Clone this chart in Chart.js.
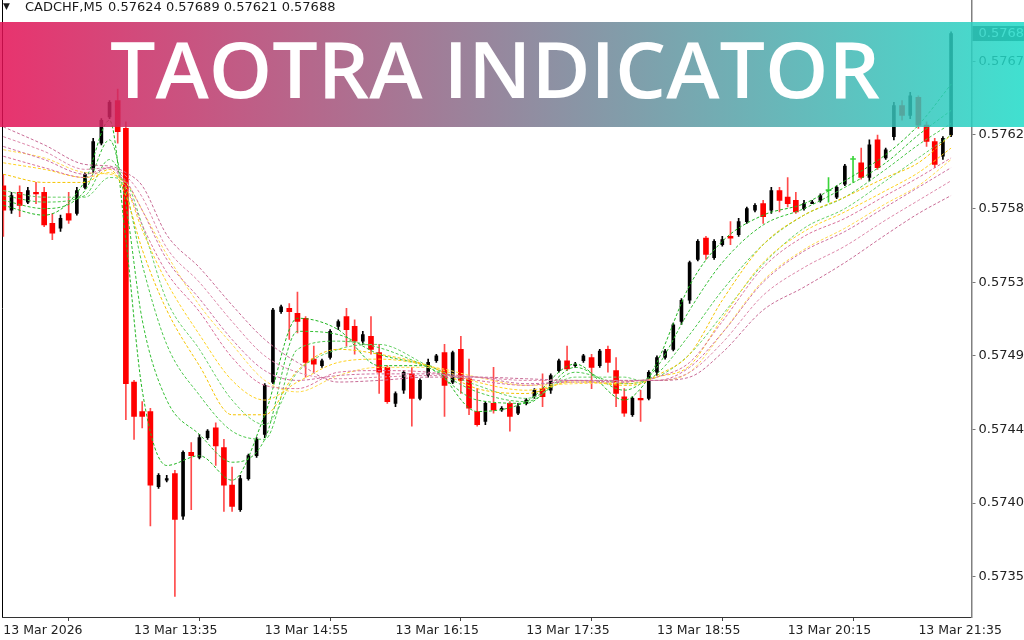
<!DOCTYPE html>
<html><head><meta charset="utf-8">
<script src="https://cdn.jsdelivr.net/npm/chart.js@4.4.1/dist/chart.umd.min.js"></script>
<style>html,body{margin:0;padding:0;background:#fff;}canvas{display:block;}</style>
</head><body>
<canvas id="c" width="1024" height="640"></canvas>
<script>
// ---------- texts ----------
const symbolTitle = 'CADCHF,M5';
const headerValues = '0.57624 0.57689 0.57621 0.57688';
const bannerText = 'TAOTRA INDICATOR';
const lastPriceLabel = '0.5768';

// ---------- axis ticks ----------
const xTickIndex = [0, 16, 32, 48, 64, 80, 96, 112];
const xTickLabels = ['13 Mar 2026', '13 Mar 13:35', '13 Mar 14:55', '13 Mar 16:15', '13 Mar 17:35', '13 Mar 18:55', '13 Mar 20:15', '13 Mar 21:35'];
const yTickValues = [0.57350, 0.57395, 0.57440, 0.57485, 0.57530, 0.57575, 0.57620, 0.57665];
const yTickLabels = ['0.5735', '0.5740', '0.5744', '0.5749', '0.5753', '0.5758', '0.5762', '0.5767'];

// ---------- candles (M5 bars, 12:15 .. 21:55) ----------
const opens = [0.57589,0.57574,0.57585,0.57579,0.57585,0.57585,0.57566,0.57563,0.57572,0.57572,
0.57588,0.57599,0.57615,0.57631,0.57641,0.57624,0.57469,0.57451,0.57451,0.57405,
0.57409,0.57413,0.57387,0.57426,0.57423,0.57435,0.57441,0.57429,0.57406,0.57391,
0.57410,0.57424,0.57437,0.57469,0.57512,0.57514,0.57511,0.57508,0.57483,0.57479,
0.57484,0.57503,0.57509,0.57503,0.57494,0.57497,0.57487,0.57478,0.57456,0.57464,
0.57474,0.57459,0.57473,0.57482,0.57487,0.57469,0.57489,0.57471,0.57451,0.57445,
0.57456,0.57452,0.57456,0.57450,0.57456,0.57460,0.57465,0.57464,0.57476,0.57482,
0.57479,0.57482,0.57484,0.57479,0.57489,0.57476,0.57460,0.57449,0.57459,0.57459,
0.57475,0.57484,0.57489,0.57506,0.57519,0.57544,0.57557,0.57545,0.57553,0.57558,
0.57559,0.57567,0.57574,0.57578,0.57574,0.57586,0.57582,0.57580,0.57575,0.57578,
0.57580,0.57586,0.57582,0.57590,0.57605,0.57603,0.57594,0.57617,0.57606,0.57619,
0.57638,0.57632,0.57643,0.57626,0.57616,0.57607,0.57620];
const highs = [0.57596,0.57585,0.57589,0.57588,0.57591,0.57588,0.57572,0.57571,0.57585,0.57588,
0.57597,0.57618,0.57630,0.57641,0.57648,0.57628,0.57470,0.57457,0.57453,0.57413,
0.57412,0.57415,0.57427,0.57432,0.57437,0.57440,0.57444,0.57434,0.57417,0.57412,
0.57425,0.57435,0.57468,0.57514,0.57516,0.57517,0.57524,0.57509,0.57491,0.57483,
0.57501,0.57507,0.57514,0.57507,0.57500,0.57509,0.57492,0.57479,0.57463,0.57476,
0.57478,0.57471,0.57483,0.57486,0.57492,0.57488,0.57497,0.57483,0.57465,0.57457,
0.57478,0.57454,0.57457,0.57456,0.57459,0.57465,0.57474,0.57474,0.57483,0.57491,
0.57481,0.57486,0.57486,0.57489,0.57491,0.57484,0.57465,0.57460,0.57464,0.57476,
0.57485,0.57489,0.57505,0.57520,0.57543,0.57556,0.57558,0.57556,0.57558,0.57567,
0.57569,0.57576,0.57578,0.57580,0.57588,0.57588,0.57594,0.57585,0.57580,0.57580,
0.57584,0.57594,0.57589,0.57602,0.57607,0.57612,0.57617,0.57620,0.57612,0.57640,
0.57641,0.57646,0.57644,0.57628,0.57618,0.57619,0.57683];
const lows = [0.57558,0.57572,0.57570,0.57578,0.57578,0.57564,0.57556,0.57561,0.57566,0.57571,
0.57587,0.57597,0.57614,0.57630,0.57615,0.57446,0.57434,0.57441,0.57381,0.57404,
0.57408,0.57338,0.57385,0.57391,0.57422,0.57434,0.57418,0.57390,0.57390,0.57390,
0.57409,0.57423,0.57435,0.57468,0.57511,0.57495,0.57499,0.57472,0.57475,0.57478,
0.57483,0.57501,0.57491,0.57486,0.57492,0.57486,0.57462,0.57456,0.57454,0.57462,
0.57442,0.57458,0.57472,0.57481,0.57448,0.57468,0.57462,0.57449,0.57442,0.57443,
0.57450,0.57451,0.57439,0.57449,0.57455,0.57459,0.57454,0.57462,0.57475,0.57476,
0.57478,0.57481,0.57465,0.57478,0.57475,0.57454,0.57448,0.57448,0.57445,0.57458,
0.57473,0.57483,0.57488,0.57504,0.57517,0.57543,0.57544,0.57544,0.57552,0.57553,
0.57558,0.57566,0.57573,0.57566,0.57572,0.57573,0.57576,0.57572,0.57574,0.57578,
0.57579,0.57579,0.57581,0.57589,0.57591,0.57593,0.57592,0.57599,0.57605,0.57617,
0.57629,0.57630,0.57624,0.57613,0.57600,0.57605,0.57619];
const closes = [0.57574,0.57583,0.57577,0.57586,0.57584,0.57565,0.57560,0.57569,0.57568,0.57586,
0.57596,0.57616,0.57629,0.57640,0.57622,0.57468,0.57448,0.57448,0.57406,0.57412,
0.57410,0.57385,0.57426,0.57424,0.57435,0.57439,0.57430,0.57406,0.57393,0.57410,
0.57424,0.57434,0.57467,0.57513,0.57515,0.57512,0.57506,0.57481,0.57480,0.57482,
0.57500,0.57506,0.57501,0.57494,0.57498,0.57489,0.57475,0.57457,0.57462,0.57475,
0.57459,0.57470,0.57481,0.57485,0.57467,0.57487,0.57470,0.57453,0.57443,0.57456,
0.57452,0.57453,0.57448,0.57454,0.57458,0.57464,0.57460,0.57473,0.57482,0.57477,
0.57480,0.57485,0.57478,0.57488,0.57481,0.57462,0.57450,0.57459,0.57458,0.57475,
0.57484,0.57488,0.57504,0.57519,0.57542,0.57555,0.57547,0.57555,0.57556,0.57557,
0.57567,0.57575,0.57577,0.57570,0.57586,0.57580,0.57578,0.57573,0.57578,0.57579,
0.57583,0.57586,0.57588,0.57601,0.57605,0.57594,0.57614,0.57600,0.57611,0.57638,
0.57632,0.57644,0.57626,0.57616,0.57602,0.57618,0.57682];

const ribbonIndex = [0,5,10,13,15,17,20,24,28,32,36,41,46,52,58,64,70,76,78,80,84,88,93,98,103,108,112,116];
const green1 = [0.57577,0.57571,0.57592,0.57629,0.57556,0.57464,0.57418,0.57424,0.57409,0.57449,0.57508,0.57501,0.57479,0.57479,0.57451,0.57457,0.57480,0.57458,0.57465,0.57481,0.57528,0.57555,0.57571,0.57578,0.57592,0.57608,0.57626,0.57651];
const green2 = [0.57580,0.57575,0.57586,0.57617,0.57577,0.57507,0.57458,0.57437,0.57420,0.57434,0.57500,0.57498,0.57486,0.57478,0.57458,0.57456,0.57478,0.57464,0.57468,0.57478,0.57513,0.57542,0.57565,0.57575,0.57588,0.57603,0.57620,0.57635];
const green3 = [0.57583,0.57579,0.57583,0.57605,0.57586,0.57541,0.57492,0.57461,0.57439,0.57434,0.57489,0.57494,0.57490,0.57478,0.57463,0.57457,0.57475,0.57468,0.57469,0.57474,0.57498,0.57525,0.57553,0.57571,0.57582,0.57599,0.57614,0.57627];
const green4 = [0.57586,0.57582,0.57582,0.57594,0.57591,0.57565,0.57519,0.57489,0.57458,0.57443,0.57475,0.57489,0.57492,0.57479,0.57467,0.57459,0.57472,0.57472,0.57470,0.57472,0.57486,0.57510,0.57541,0.57563,0.57575,0.57592,0.57606,0.57620];
const yellow1 = [0.57596,0.57591,0.57591,0.57599,0.57583,0.57550,0.57513,0.57479,0.57449,0.57449,0.57476,0.57489,0.57486,0.57479,0.57465,0.57462,0.57470,0.57467,0.57468,0.57473,0.57486,0.57519,0.57553,0.57571,0.57582,0.57594,0.57603,0.57620];
const yellow2 = [0.57603,0.57599,0.57594,0.57597,0.57588,0.57562,0.57530,0.57498,0.57470,0.57458,0.57469,0.57481,0.57483,0.57479,0.57469,0.57464,0.57469,0.57468,0.57469,0.57472,0.57479,0.57508,0.57542,0.57561,0.57573,0.57586,0.57597,0.57612];
const yellow3 = [0.57611,0.57606,0.57597,0.57596,0.57591,0.57574,0.57547,0.57516,0.57492,0.57470,0.57463,0.57473,0.57478,0.57478,0.57472,0.57467,0.57468,0.57469,0.57470,0.57470,0.57475,0.57499,0.57531,0.57550,0.57563,0.57578,0.57589,0.57605];
const pink1 = [0.57607,0.57600,0.57594,0.57600,0.57589,0.57565,0.57536,0.57512,0.57484,0.57467,0.57465,0.57475,0.57476,0.57475,0.57470,0.57467,0.57470,0.57469,0.57470,0.57472,0.57481,0.57506,0.57539,0.57558,0.57569,0.57583,0.57594,0.57606];
const pink2 = [0.57613,0.57605,0.57596,0.57600,0.57592,0.57574,0.57544,0.57520,0.57495,0.57476,0.57470,0.57473,0.57474,0.57474,0.57472,0.57468,0.57469,0.57469,0.57470,0.57470,0.57478,0.57499,0.57530,0.57549,0.57561,0.57576,0.57588,0.57600];
const pink3 = [0.57619,0.57610,0.57599,0.57600,0.57595,0.57582,0.57551,0.57530,0.57506,0.57485,0.57475,0.57471,0.57472,0.57473,0.57472,0.57470,0.57470,0.57470,0.57470,0.57470,0.57475,0.57493,0.57522,0.57539,0.57552,0.57568,0.57580,0.57592];
const pink4 = [0.57625,0.57614,0.57602,0.57601,0.57597,0.57589,0.57559,0.57539,0.57516,0.57495,0.57481,0.57469,0.57470,0.57472,0.57472,0.57471,0.57470,0.57470,0.57470,0.57470,0.57472,0.57487,0.57513,0.57527,0.57542,0.57559,0.57572,0.57583];

// ---------- build datasets ----------
const BULL = '#000000', BEAR = '#ff0000', DOJI = '#3ad43a';
const kind = closes.map((c, i) => c > opens[i] ? 'bull' : (c < opens[i] ? 'bear' : 'doji'));
const wickData = opens.map((o, i) => ({x: i, y: [lows[i], highs[i]]}));
const bodyOf = k => opens.map((o, i) => kind[i] === k ? {x: i, y: [o, closes[i]]} : null).filter(Boolean);
const wickColors = kind.map(k => k === 'bull' ? BULL : (k === 'bear' ? 'rgba(255,30,30,0.8)' : DOJI));

function ribbon(vals, color) {
  return {
    type: 'line', data: vals.map((v, j) => ({x: ribbonIndex[j], y: v})),
    borderColor: color, borderWidth: 1, borderDash: [3, 2], pointRadius: 0,
    cubicInterpolationMode: 'monotone', fill: false, order: 0
  };
}

const pinkLines = [pink4, pink3, pink2, pink1];
const pinkCols = ['#c86c96', '#dd88aa', '#cf6f9f', '#d9709a'];
const yellowLines = [yellow3, yellow2, yellow1];
const yellowCols = ['#ffdb4d', '#ffd21f', '#f5c400'];
const greenLines = [green4, green3, green2, green1];
const greenCols = ['#66d066', '#4cc84c', '#33bf33', '#1fb51f'];

const datasets = [
  ...pinkLines.map((l, k) => ribbon(l, pinkCols[k])),
  ...yellowLines.map((l, k) => ribbon(l, yellowCols[k])),
  ...greenLines.map((l, k) => ribbon(l, greenCols[k])),
  {type: 'bar', data: bodyOf('bear'), backgroundColor: BEAR, barThickness: 5, grouped: false, minBarLength: 1, order: 1},
  {type: 'bar', data: bodyOf('bull'), backgroundColor: BULL, barThickness: 3, grouped: false, minBarLength: 1, order: 1},
  {type: 'bar', data: bodyOf('doji'), backgroundColor: DOJI, barThickness: 5, grouped: false, minBarLength: 1, order: 1},
  {type: 'bar', data: wickData, backgroundColor: wickColors, barThickness: 1, grouped: false, order: 2}
];

// ---------- decorations ----------
const decor = {
  id: 'decor',
  beforeDatasetsDraw(chart) {
    const {ctx, chartArea} = chart;
    ctx.save();
    ctx.strokeStyle = '#000'; ctx.lineWidth = 1;
    ctx.beginPath(); ctx.moveTo(chartArea.left, 0); ctx.lineTo(chartArea.left, chartArea.bottom); ctx.stroke();
    ctx.restore();
  },
  afterDatasetsDraw(chart) {
    const {ctx, chartArea} = chart;
    const y = chart.scales.y.getPixelForValue(closes[closes.length - 1]);
    ctx.save();
    ctx.fillStyle = '#3a3a3a';
    ctx.fillRect(chartArea.right + 1, y - 7.5, 1024 - chartArea.right, 15);
    ctx.fillStyle = '#ffffff';
    ctx.font = '13px "DejaVu Sans"';
    ctx.textBaseline = 'middle';
    ctx.fillText(lastPriceLabel, chartArea.right + 7, y + 0.5);
    ctx.restore();
  },
  afterDraw(chart) {
    const ctx = chart.ctx;
    ctx.save();
    const g = ctx.createLinearGradient(0, 0, 1024, 0);
    g.addColorStop(0, 'rgb(228,16,85)');
    g.addColorStop(1, 'rgb(31,219,200)');
    ctx.globalAlpha = 0.85;
    ctx.fillStyle = g;
    ctx.fillRect(0, 22, 1024, 105);
    ctx.globalAlpha = 1;
    ctx.fillStyle = '#ffffff';
    ctx.font = '600 78px "Open Sans"';
    ctx.textBaseline = 'alphabetic';
    const w = ctx.measureText(bannerText).width;
    ctx.translate(110, 98);
    ctx.scale(770 / w, 1);
    ctx.fillText(bannerText, 0, 0);
    ctx.restore();

    ctx.save();
    ctx.fillStyle = '#1a1a1a';
    ctx.textBaseline = 'middle';
    ctx.font = '9px "DejaVu Sans"';
    ctx.fillText('\u25BC', 3, 7);
    ctx.font = '13px "DejaVu Sans"';
    ctx.fillText(symbolTitle, 25, 8);
    ctx.fillText(headerValues, 108, 8);
    ctx.restore();
  }
};

new Chart(document.getElementById('c'), {
  type: 'bar',
  data: {datasets},
  options: {
    responsive: false, animation: false, events: [],
    devicePixelRatio: 1,
    layout: {padding: {left: 2.5, right: 0, top: 0, bottom: 0}},
    plugins: {legend: {display: false}, tooltip: {enabled: false}},
    scales: {
      x: {
        type: 'linear', min: -0.1, max: 118.5, offset: false,
        afterBuildTicks: s => { s.ticks = xTickIndex.map(v => ({value: v})); },
        afterFit: s => { s.height = 23; s.paddingLeft = 0; s.paddingRight = 0; },
        grid: {display: true, drawOnChartArea: false, drawTicks: true, tickLength: 4, color: '#444'},
        border: {display: true, color: '#333', width: 1},
        ticks: {
          autoSkip: false, maxRotation: 0, align: 'start', padding: 2,
          color: '#222', font: {family: 'DejaVu Sans', size: 12.5},
          callback: v => { const k = xTickIndex.indexOf(v); return k >= 0 ? xTickLabels[k] : ''; }
        }
      },
      y: {
        type: 'linear', position: 'right', min: 0.573254, max: 0.577025,
        afterBuildTicks: s => { s.ticks = yTickValues.map(v => ({value: v})); },
        afterFit: s => { s.width = 52.5; s.paddingTop = 0; s.paddingBottom = 0; },
        grid: {display: true, drawOnChartArea: false, drawTicks: true, tickLength: 4, color: '#777'},
        border: {display: true, color: '#808080', width: 1.5},
        ticks: {
          padding: 3, color: '#222', font: {family: 'DejaVu Sans', size: 13},
          callback: v => { const k = yTickValues.findIndex(t => Math.abs(t - v) < 1e-7); return k >= 0 ? yTickLabels[k] : ''; }
        }
      }
    }
  },
  plugins: [decor]
});
</script>
</body></html>
